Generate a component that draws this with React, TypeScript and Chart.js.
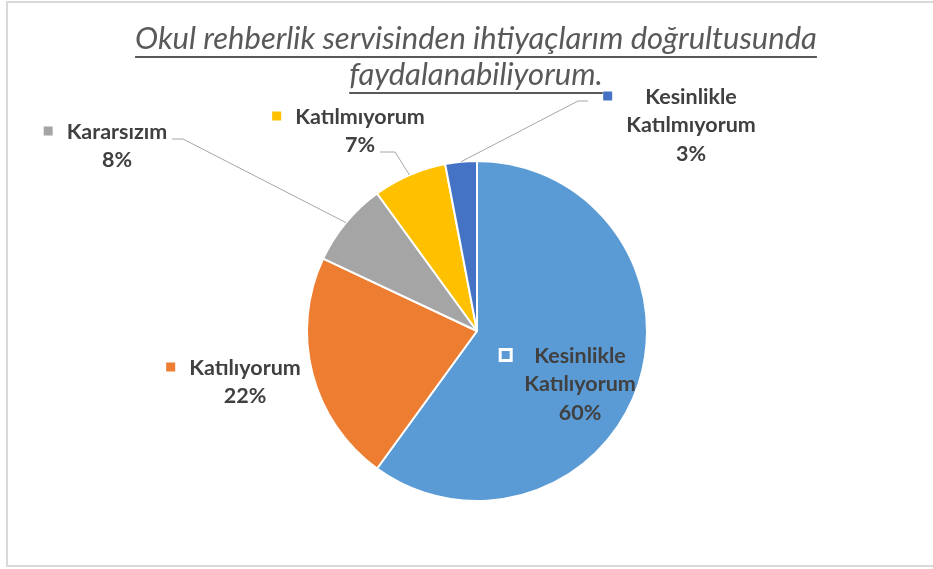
import React, { useEffect, useRef } from 'react';
import { Chart, registerables } from 'chart.js';

Chart.register(...registerables);

// ---- data ----
const categories = ['Kesinlikle Katılıyorum', 'Katılıyorum', 'Kararsızım', 'Katılmıyorum', 'Kesinlikle Katılmıyorum'];
const values = [60, 22, 8, 7, 3];
const sliceColors = ['#5B9BD5', '#ED7D31', '#A5A5A5', '#FFC000', '#4472C4'];
const labelLines = [['Kesinlikle', 'Katılıyorum'], ['Katılıyorum'], ['Kararsızım'], ['Katılmıyorum'], ['Kesinlikle', 'Katılmıyorum']];
const titleLines = ['Okul rehberlik servisinden ihtiyaçlarım doğrultusunda', 'faydalanabiliyorum.'];

// ---- layout (pixels relative to the pie centre) ----
const labelAnchor = [[103, 25], [-232, 37], [-360, -199], [-117, -214], [214, -234]];
const labelInside = [true, false, false, false, false];
const leaderBend: (number[] | null)[] = [null, null, [-294, -192], [-82, -179], [101, -230]];
const leaderEnd: (number[] | null)[] = [null, null, [-305, -192], [-97, -179], [111, -230]];

const LABEL_FONT = 'bold 21.5px Lato, "Open Sans", sans-serif';
const TITLE_FONT = 'italic 31px Lato, "Open Sans", sans-serif';
const LINE_H = 28.5;

const labelPlugin = {
  id: 'excelLabels',
  afterDraw(chart: any) {
    const ctx: CanvasRenderingContext2D = chart.ctx;
    const meta = chart.getDatasetMeta(0);
    const total = values.reduce((a, b) => a + b, 0);
    ctx.save();

    // title
    ctx.fillStyle = '#595959';
    ctx.font = TITLE_FONT;
    ctx.textAlign = 'center';
    ctx.textBaseline = 'alphabetic';
    const tx = 476;
    const baselines = [49, 85];
    titleLines.forEach((t, i) => {
      ctx.fillText(t, tx, baselines[i]);
      const w = ctx.measureText(t).width;
      ctx.fillRect(tx - w / 2, baselines[i] + 7, w, 2);
    });

    meta.data.forEach((arc: any, i: number) => {
      const cx = arc.x, cy = arc.y;
      const mid = (arc.startAngle + arc.endAngle) / 2;
      const r = arc.outerRadius;
      const bend = leaderBend[i];
      const end = leaderEnd[i];
      if (bend && end) {
        ctx.strokeStyle = '#A6A6A6';
        ctx.lineWidth = 1;
        ctx.beginPath();
        ctx.moveTo(cx + Math.cos(mid) * r, cy + Math.sin(mid) * r);
        ctx.lineTo(cx + bend[0], cy + bend[1]);
        ctx.lineTo(cx + end[0], cy + end[1]);
        ctx.stroke();
      }
      const pct = Math.round((values[i] / total) * 100) + '%';
      const lines = [...labelLines[i], pct];
      ctx.font = LABEL_FONT;
      ctx.textAlign = 'center';
      ctx.textBaseline = 'middle';
      ctx.fillStyle = '#404040';
      const maxW = Math.max(...lines.map((l) => ctx.measureText(l).width));
      const bx = cx + labelAnchor[i][0];
      const by = cy + labelAnchor[i][1];
      lines.forEach((l, k) => ctx.fillText(l, bx, by + k * LINE_H));
      // legend key
      const size = 9;
      const mx = bx - maxW / 2 - 14 - size;
      const my = by - 1 - size / 2;
      if (labelInside[i]) {
        ctx.fillStyle = sliceColors[i];
        ctx.fillRect(mx - 1, my - 1, size + 2, size + 2);
        ctx.strokeStyle = '#FFFFFF';
        ctx.lineWidth = 3;
        ctx.strokeRect(mx - 1, my - 1, size + 2, size + 2);
      } else {
        ctx.fillStyle = sliceColors[i];
        ctx.fillRect(mx, my, size, size);
      }
    });
    ctx.restore();
  },
};

export default function App() {
  const ref = useRef<HTMLCanvasElement | null>(null);
  useEffect(() => {
    document.body.style.margin = '0';
    if (!ref.current) return;
    const chart = new Chart(ref.current, {
      type: 'pie',
      data: {
        labels: categories,
        datasets: [
          {
            data: values,
            backgroundColor: sliceColors,
            borderColor: '#FFFFFF',
            borderWidth: 2,
          },
        ],
      },
      options: {
        responsive: false,
        animation: false,
        devicePixelRatio: 1,
        layout: { padding: { top: 159, bottom: 66, left: 306, right: 285 } },
        plugins: {
          legend: { display: false },
          tooltip: { enabled: false },
          title: { display: false },
        },
      },
      plugins: [labelPlugin],
    });
    return () => chart.destroy();
  }, []);
  return (
    <div style={{ position: 'fixed', left: 0, top: 0, width: 933, height: 569, background: '#FFFFFF', overflow: 'hidden' }}>
      <div
        style={{
          position: 'absolute',
          left: 6,
          top: 1,
          width: 960,
          height: 566,
          boxSizing: 'border-box',
          border: '2px solid #D9D9D9',
        }}
      />
      <canvas ref={ref} width={933} height={569} style={{ position: 'absolute', left: 0, top: 0 }} />
    </div>
  );
}
